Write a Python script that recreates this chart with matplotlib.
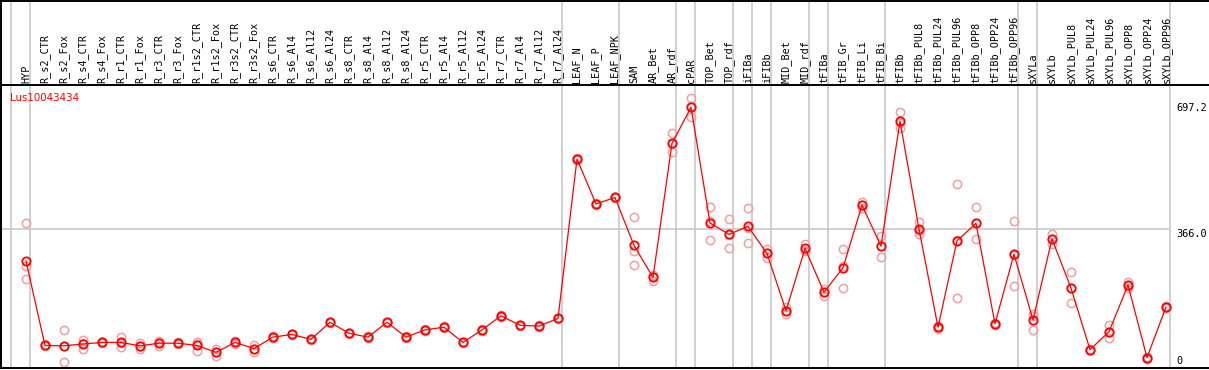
import matplotlib
matplotlib.use("Agg")
import matplotlib.pyplot as plt
import matplotlib.transforms as mtransforms
from matplotlib.lines import Line2D
import numpy as np

# ── Data ──────────────────────────────────────────────────────────────────────
samples = [
    "HYP", "R_s2_CTR", "R_s2_Fox", "R_s4_CTR", "R_s4_Fox", "R_r1_CTR", "R_r1_Fox",
    "R_r3_CTR", "R_r3_Fox", "R_r1s2_CTR", "R_r1s2_Fox", "R_r3s2_CTR", "R_r3s2_Fox",
    "R_s6_CTR", "R_s6_Al4", "R_s6_Al12", "R_s6_Al24", "R_s8_CTR", "R_s8_Al4",
    "R_s8_Al12", "R_s8_Al24", "R_r5_CTR", "R_r5_Al4", "R_r5_Al12", "R_r5_Al24",
    "R_r7_CTR", "R_r7_Al4", "R_r7_Al12", "R_r7_Al24", "LEAF_N", "LEAF_P", "LEAF_NPK",
    "SAM", "AR_Bet", "AR_rdf", "cPAR", "TOP_Bet", "TOP_rdf", "iFIBa", "iFIBb",
    "MID_Bet", "MID_rdf", "tFIBa", "tFIB_Gr", "tFIB_Li", "tFIB_Bi", "tFIBb",
    "tFIBb_PUL8", "tFIBb_PUL24", "tFIBb_PUL96", "tFIBb_OPP8", "tFIBb_OPP24",
    "tFIBb_OPP96", "sXYLa", "sXYLb", "sXYLb_PUL8", "sXYLb_PUL24", "sXYLb_PUL96",
    "sXYLb_OPP8", "sXYLb_OPP24", "sXYLb_OPP96",
]

mean_expr = [
    282, 60, 59, 64, 68, 68, 59, 66, 66, 60, 42, 68, 52,
    82, 89, 76, 121, 92, 82, 121, 82, 101, 108, 68, 101,
    138, 113, 111, 131, 550, 432, 449,
    323, 239, 591, 686, 382, 352, 373, 302,
    151, 315, 200, 264, 429, 321, 650,
    366, 108, 335, 381, 117, 300,
    127, 340, 211, 49, 96, 219, 28, 161,
]

rep1 = [
    381, 62, 101, 74, 70, 81, 67, 73, 68, 70, 51, 72, 61,
    84, 91, 78, 123, 94, 84, 123, 84, 103, 110, 70, 103,
    140, 115, 113, 133, 552, 434, 451,
    397, 245, 618, 710, 423, 392, 421, 314,
    162, 326, 208, 314, 438, 349, 673,
    384, 112, 484, 423, 119, 386,
    142, 353, 252, 51, 114, 228, 30, 164,
]
rep2 = [
    270, 58, 17, 50, 66, 57, 51, 59, 63, 46, 33, 65, 42,
    80, 88, 74, 119, 90, 80, 119, 80, 99, 106, 66, 99,
    136, 111, 109, 129, 548, 430, 447,
    307, 229, 568, 660, 336, 315, 329, 289,
    142, 311, 191, 210, 421, 292, 631,
    353, 103, 184, 339, 115, 216,
    101, 326, 171, 47, 79, 212, 25, 158,
]
rep3 = [
    236, 60, 58, 67, 69, 67, 59, 66, 66, 63, 42, 68, 52,
    82, 89, 76, 121, 92, 82, 121, 82, 101, 108, 68, 101,
    138, 113, 111, 131, 550, 432, 449,
    271, 242, 589, 689, 386, 350, 370, 303,
    150, 309, 200, 269, 429, 321, 646,
    361, 108, 338, 381, 117, 298,
    138, 341, 210, 49, 96, 217, 28, 161,
]

# last sample index of each group (group separators)
group_ends = [-1, 0, 28, 31, 34, 35, 37, 38, 39, 41, 42, 45, 52, 53, 60]

y_ticks = [697.2, 366.0, 0]
y_tick_labels = ["697.2", "366.0", "0"]
gene = "Lus10043434"

# ── Figure ────────────────────────────────────────────────────────────────────
W, H = 1209, 370
fig = plt.figure(figsize=(W / 100, H / 100), dpi=100)
ax = fig.add_axes([1 / W, 1.7 / H, 1 - 1 / W, (368.3 - 85) / H])

x = np.arange(len(samples))
red = "#ff0000"
pink = "#f0a0a0"
grey = "#c4c4c4"

ax.set_xlim((1 - 26) / 19, (1209 - 26) / 19)
ax.set_ylim(0, 744.6)
ax.set_xticks([]); ax.set_yticks([])
for s in ["top", "bottom", "left"]:
    ax.spines[s].set_color("black")
    ax.spines[s].set_linewidth(1.4)
ax.spines["right"].set_visible(False)

# group separators run through the header up to the top border
y_top_frac = 368.3 / (368.3 - 85)
for g in group_ends:
    ax.axvline(g + 0.21, ymin=0, ymax=y_top_frac, color=grey, lw=1.1,
               clip_on=False, zorder=1)

ax.hlines(366.0, ax.get_xlim()[0], 60.21, color=grey, lw=1.1, zorder=1)

# replicates, then mean line
for reps in (rep1, rep2, rep3):
    ax.plot(x, reps, ls="none", marker="o", ms=6, mfc="none", mec=pink,
            mew=1.1, zorder=2, clip_on=False)
ax.plot(x, mean_expr, color=red, lw=0.9, marker="o", ms=6, mfc="none",
        mec=red, mew=1.3, zorder=3, clip_on=False)

# header labels
hdr = mtransforms.blended_transform_factory(ax.transData, ax.transAxes)
for i, name in enumerate(samples):
    ax.text(i, 1 + 2 / 283.3, name, rotation=90, ha="center", va="bottom",
            family="DejaVu Sans Mono", fontsize=7.3, transform=hdr)

# right-hand value labels
xr = (1176 - 26) / 19
for v, lab in zip(y_ticks, y_tick_labels):
    if v == 0:
        ax.annotate(lab, (xr, v), xytext=(0, 1.5), textcoords="offset points",
                    ha="left", va="bottom", family="DejaVu Sans Mono",
                    fontsize=7.4, annotation_clip=False)
    else:
        ax.text(xr, v, lab, ha="left", va="top", family="DejaVu Sans Mono",
                fontsize=7.4, clip_on=False)

# gene name
fig.text(10 / W, 1 - 93 / H, gene, color=red, fontsize=7.4, ha="left", va="top",
         family="DejaVu Sans")

# outer border: top edge and left edge through the header
fig.add_artist(Line2D([0, 1], [1 - 0.5 / H, 1 - 0.5 / H], color="black", lw=1.4,
                      transform=fig.transFigure))
fig.add_artist(Line2D([1 / W, 1 / W], [1.7 / H, 1], color="black", lw=1.4,
                      transform=fig.transFigure))

fig.savefig("out.png", dpi=100)
